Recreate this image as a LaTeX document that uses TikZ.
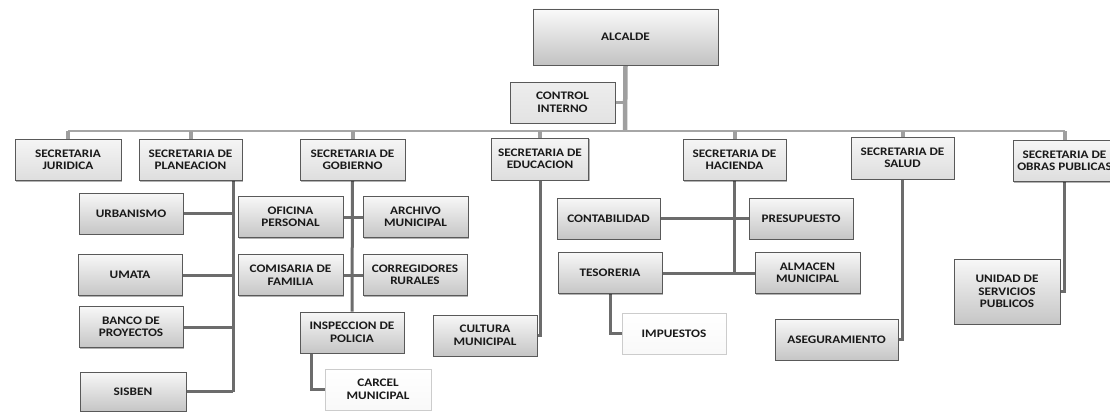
\documentclass[tikz,border=0pt]{standalone}
\usepackage{fontspec}
\setmainfont{Carlito}[FakeStretch=1.15]
\usetikzlibrary{backgrounds,shadows}

\tikzset{
  caja/.style={draw=gray!70!black, line width=0.6pt, top color=gray!6, bottom color=gray!45,
    minimum width=104pt, minimum height=41pt, inner sep=1pt, align=center, text=black!90,
    font=\bfseries\fontsize{11.5}{12.5}\selectfont,
    drop shadow={shadow xshift=1.2pt, shadow yshift=-1.2pt, opacity=0.3, fill=black}},
  secre/.style={caja, top color=gray!8, bottom color=gray!26},
  blanca/.style={caja, draw=gray!40, top color=white, bottom color=gray!5,
    drop shadow={opacity=0}},
  linea/.style={draw=gray!85!black, line width=3pt},
  barra/.style={draw=gray!70, line width=2.6pt},
  tick/.style={draw=gray!75, line width=4pt},
}

\begin{document}
\begin{tikzpicture}[x=1pt,y=-1pt]
\useasboundingbox (0,0) rectangle (1110,412);
\clip (0,0) rectangle (1110,412);

% alcalde y control
\node[caja, minimum width=185pt, minimum height=56pt, top color=gray!4, bottom color=gray!48] (alcalde) at (625.5,37) {ALCALDE};
\node[secre, minimum width=105pt, top color=gray!14, bottom color=gray!22] (control) at (562.5,102.5) {CONTROL\\INTERNO};
\coordinate (bus) at (625,131);

% secretarias
\node[secre, minimum width=106pt] (juridica) at (68,160) {SECRETARIA\\JURIDICA};
\node[secre, minimum width=103pt] (planeacion) at (190.5,160) {SECRETARIA DE\\PLANEACION};
\node[secre, minimum width=105pt] (gobierno) at (352.5,160) {SECRETARIA DE\\GOBIERNO};
\node[secre, minimum width=97pt, minimum height=42pt] (educacion) at (540,159) {SECRETARIA DE\\EDUCACION};
\node[secre, minimum width=103pt] (hacienda) at (734.5,160) {SECRETARIA DE\\HACIENDA};
\node[secre, minimum width=103pt, minimum height=42pt] (salud) at (902.5,158) {SECRETARIA DE\\SALUD};
\node[secre, minimum width=103pt] (obras) at (1064.5,161) {SECRETARIA DE\\OBRAS PUBLICAS};

% planeacion
\node[caja] (urbanismo) at (131,213.5) {URBANISMO};
\node[caja] (umata) at (130,275) {UMATA};
\node[caja] (banco) at (131,327) {BANCO DE\\PROYECTOS};
\node[caja, minimum width=106pt, minimum height=39pt] (sisben) at (133,391.5) {SISBEN};
\coordinate (pl) at (233,180);

% gobierno
\node[caja, minimum width=105pt] (oficina) at (290.5,217) {OFICINA\\PERSONAL};
\node[caja, minimum width=105pt] (archivo) at (415.5,217) {ARCHIVO\\MUNICIPAL};
\node[caja, minimum width=105pt] (comisaria) at (290.5,275) {COMISARIA DE\\FAMILIA};
\node[caja] (corregidores) at (415,275) {CORREGIDORES\\RURALES};
\node[caja] (inspeccion) at (352,332.5) {INSPECCION DE\\POLICIA};
\node[blanca, minimum width=106pt] (carcel) at (378,389.5) {CARCEL\\MUNICIPAL};

% educacion
\node[caja] (cultura) at (485,335.5) {CULTURA\\MUNICIPAL};

% hacienda
\node[caja, minimum width=103pt] (contabilidad) at (608.5,218.5) {CONTABILIDAD};
\node[caja] (presupuesto) at (801,218.5) {PRESUPUESTO};
\node[caja] (tesoreria) at (610,273) {TESORERIA};
\node[caja, minimum width=105pt] (almacen) at (807.5,273) {ALMACEN\\MUNICIPAL};
\node[blanca] (impuestos) at (674,333.5) {IMPUESTOS};

% salud y obras
\node[caja, minimum width=123pt] (aseguramiento) at (836.5,339.5) {ASEGURAMIENTO};
\node[caja, minimum width=106pt, minimum height=65pt] (unidad) at (1007,291.5) {UNIDAD DE\\SERVICIOS\\PUBLICOS};

\begin{scope}[on background layer]
\fill[white] (0,0) rectangle (1110,412);
\draw[tick, line width=4.5pt] (alcalde.south) -- (bus);
\draw[tick, line width=3pt] (control.east) -- (control.east -| alcalde.south);
\draw[barra] (juridica.north |- bus) -- (obras.north |- bus);
\foreach \s in {juridica,planeacion,gobierno,educacion,hacienda,salud,obras}
  \draw[tick] (\s.north) -- (\s.north |- bus);

\draw[linea] (pl) -- (pl |- sisben.east);
\foreach \b in {urbanismo,umata,banco,sisben}
  \draw[linea] (\b.east) -- (\b.east -| pl);

\draw[linea] (gobierno.south) -- (inspeccion.north);
\draw[linea] (oficina.east) -- (archivo.west);
\draw[linea] (comisaria.east) -- (corregidores.west);
\draw[linea] ([xshift=12pt]inspeccion.south west) |- (carcel.west);

\draw[linea] (educacion.south) |- (cultura.east);

\draw[linea] (hacienda.south) -- (hacienda.south |- tesoreria.east);
\draw[linea] (contabilidad.east) -- (presupuesto.west);
\draw[linea] (tesoreria.east) -- (almacen.west);
\draw[linea] (tesoreria.south) |- (impuestos.west);

\draw[linea] (salud.south) |- (aseguramiento.east);
\draw[linea] (obras.south) |- (unidad.east);
\end{scope}
\end{tikzpicture}
\end{document}
